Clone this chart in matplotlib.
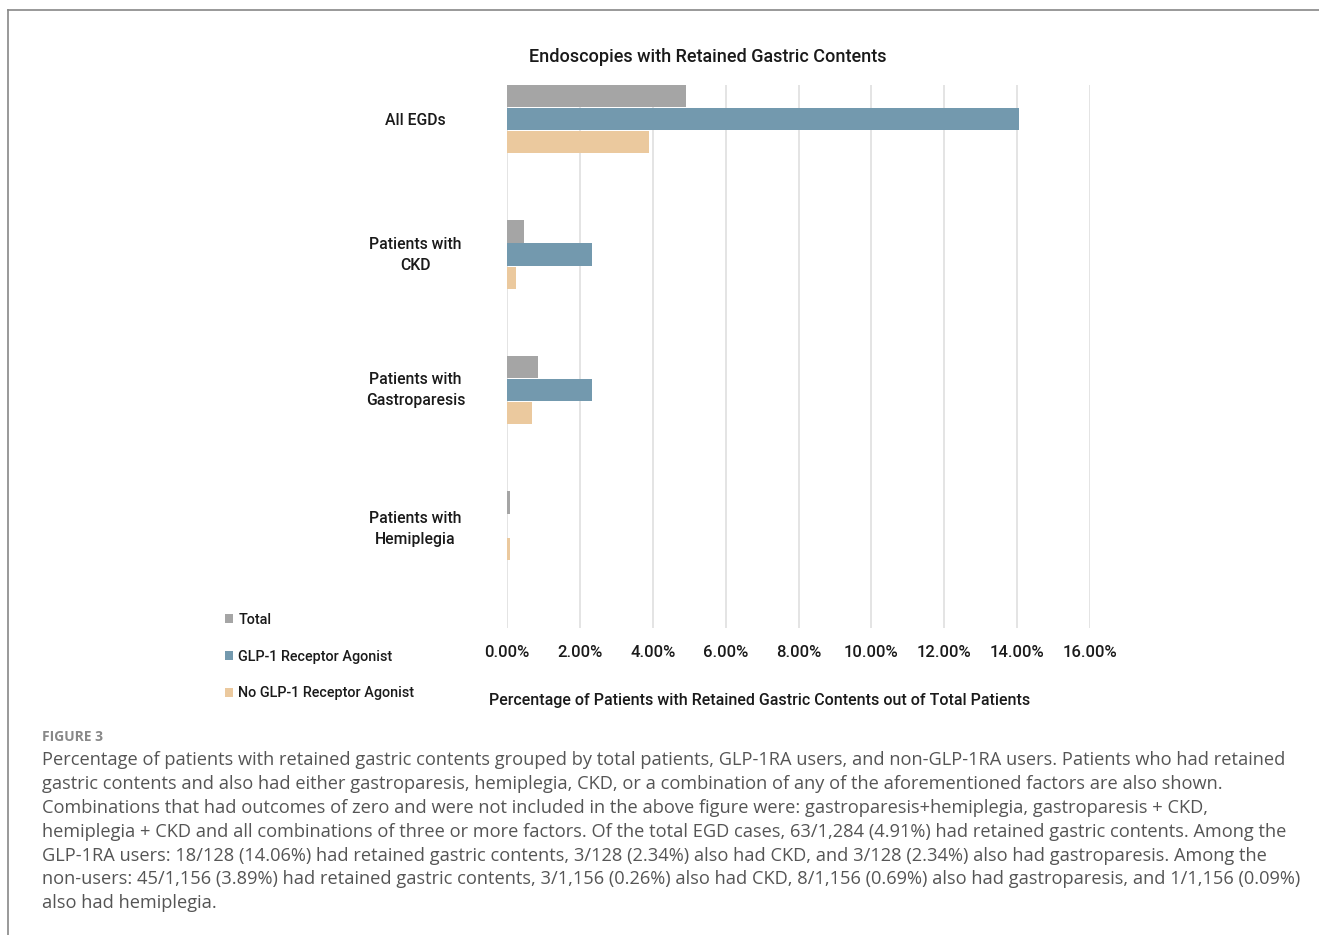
import matplotlib
import matplotlib.pyplot as plt
from matplotlib.lines import Line2D
import numpy as np

categories = ["All EGDs", "Patients with\nCKD", "Patients with\nGastroparesis", "Patients with\nHemiplegia"]
series_names = ["Total", "GLP-1 Receptor Agonist", "No GLP-1 Receptor Agonist"]
total = [4.91, 0.47, 0.86, 0.08]
glp1 = [14.06, 2.34, 2.34, 0.0]
no_glp1 = [3.89, 0.26, 0.69, 0.09]
xticks = np.arange(0, 17, 2)

colors = ["#A5A5A5", "#7399AE", "#EBC99E"]
chart_font = ["Roboto", "DejaVu Sans"]
cap_font = ["Open Sans", "DejaVu Sans"]
ink = "#1a1a1a"

caption = [
    "Percentage of patients with retained gastric contents grouped by total patients, GLP-1RA users, and non-GLP-1RA users. Patients who had retained",
    "gastric contents and also had either gastroparesis, hemiplegia, CKD, or a combination of any of the aforementioned factors are also shown.",
    "Combinations that had outcomes of zero and were not included in the above figure were: gastroparesis+hemiplegia, gastroparesis + CKD,",
    "hemiplegia + CKD and all combinations of three or more factors. Of the total EGD cases, 63/1,284 (4.91%) had retained gastric contents. Among the",
    "GLP-1RA users: 18/128 (14.06%) had retained gastric contents, 3/128 (2.34%) also had CKD, and 3/128 (2.34%) also had gastroparesis. Among the",
    "non-users: 45/1,156 (3.89%) had retained gastric contents, 3/1,156 (0.26%) also had CKD, 8/1,156 (0.69%) also had gastroparesis, and 1/1,156 (0.09%)",
    "also had hemiplegia.",
]

W, H = 1319, 935
fig = plt.figure(figsize=(W / 100, H / 100), dpi=100)

# plot area in pixels: x 507..1090, y 85..628
ax = fig.add_axes([507 / W, 1 - 628 / H, (1090 - 507) / W, (628 - 85) / H])

y = np.arange(len(categories))
off = 0.17
bh = 0.163
for vals, c, s, d in zip([total, glp1, no_glp1], colors, series_names, [-off, 0, off]):
    ax.barh(y + d, vals, height=bh, color=c, label=s, zorder=3)

ax.set_xlim(0, 16)
ax.set_ylim(3.756, -0.251)
ax.set_xticks(xticks)
ax.set_xticklabels([f"{v:.2f}%" for v in xticks], family=chart_font, fontsize=12,
                   fontweight="medium", color=ink)
ax.set_yticks(y - np.array([0, 0.03, 0.03, 0.005]))
ax.set_yticklabels(categories, family=chart_font, fontsize=11.3, fontweight="medium",
                   color=ink, ha="center", linespacing=1.5)
ax.tick_params(axis="x", length=0, pad=12)
ax.tick_params(axis="y", length=0, pad=66)
for sp in ax.spines.values():
    sp.set_visible(False)
ax.grid(axis="x", color="#DCDCDC", lw=1.1, zorder=0)

fig.text(708 / W, 1 - 57 / H, "Endoscopies with Retained Gastric Contents", family=chart_font,
         fontsize=13, fontweight="medium", color=ink, ha="center", va="center")
fig.text(760 / W, 1 - 701 / H, "Percentage of Patients with Retained Gastric Contents out of Total Patients",
         family=chart_font, fontsize=11.5, fontweight="medium", color=ink, ha="center", va="center")

handles, labels = ax.get_legend_handles_labels()
leg = fig.legend(handles, labels, loc="upper left", bbox_to_anchor=(219 / W, 1 - 607 / H),
                 frameon=False, handlelength=0.6, handleheight=0.6, handletextpad=0.35,
                 borderaxespad=0, borderpad=0.4,
                 labelspacing=1.58, prop={"family": chart_font, "size": 10.4, "weight": "medium"})
for t in leg.get_texts():
    t.set_color(ink)

# frame
fig.add_artist(Line2D([8 / W, 8 / W], [0, 1 - 10 / H], color="#888888", lw=1.2))
fig.add_artist(Line2D([8 / W, 1], [1 - 10 / H, 1 - 10 / H], color="#888888", lw=1.2))

fig.text(42 / W, 1 - 737 / H, "FIGURE 3", family=cap_font, fontsize=10, fontweight="bold",
         color="#888888", va="center")
for i, line in enumerate(caption):
    fig.text(42 / W, 1 - (760 + 23.9 * i) / H, line, family=cap_font, fontsize=13.15,
             color="#555555", va="center")

fig.savefig("out.png", dpi=100)
